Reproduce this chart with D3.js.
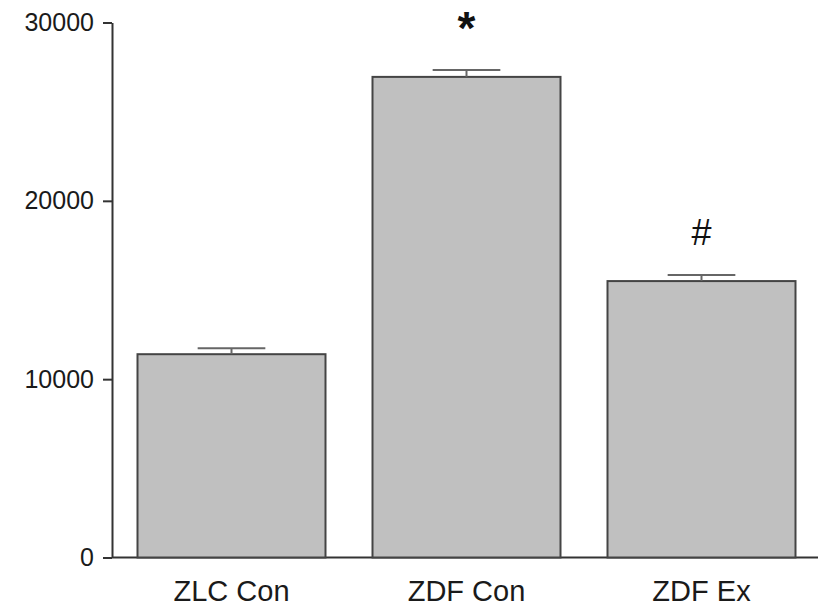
<!DOCTYPE html>
<html>
<head>
<meta charset="utf-8">
<script src="https://cdn.jsdelivr.net/npm/d3@7"></script>
<style>
  html, body { margin: 0; padding: 0; background: #fff; }
  svg { display: block; font-family: "Liberation Sans", Arial, sans-serif; }
</style>
</head>
<body>
<svg id="chart" width="818" height="609"></svg>
<script>
// Group means, upward error (SEM) and significance markers
const categories = ["ZLC Con", "ZDF Con", "ZDF Ex"];
const means = [11400, 26950, 15500];
const errors = [330, 390, 340];
const markers = ["", "*", "#"];
const yTicks = [0, 10000, 20000, 30000];

const svg = d3.select("#chart");

const x = d3.scaleBand()
  .domain(categories)
  .range([114, 819])
  .paddingInner(0.2)
  .paddingOuter(0.1);

const y = d3.scaleLinear()
  .domain([0, 30000])
  .range([557.5, 22.5]);

const axisColor = "#333";

// Y axis
const yAxis = svg.append("g")
  .attr("transform", "translate(112,0)")
  .call(d3.axisLeft(y).tickValues(yTicks).tickSize(9).tickSizeOuter(0).tickPadding(9).tickFormat(d3.format("d")));
yAxis.select(".domain").attr("stroke", axisColor).attr("stroke-width", 2);
yAxis.selectAll(".tick line").attr("stroke", axisColor).attr("stroke-width", 2);
yAxis.selectAll(".tick text")
  .attr("fill", "#1a1a1a")
  .style("font-size", "25px")
  .style("font-family", "Liberation Sans, Arial, sans-serif");

// X axis baseline
svg.append("line")
  .attr("x1", 112).attr("x2", 818)
  .attr("y1", y(0)).attr("y2", y(0))
  .attr("stroke", axisColor).attr("stroke-width", 2);

// Bars
svg.append("g").selectAll("rect")
  .data(categories)
  .join("rect")
  .attr("x", d => x(d))
  .attr("y", (d, i) => y(means[i]))
  .attr("width", x.bandwidth())
  .attr("height", (d, i) => y(0) - y(means[i]))
  .attr("fill", "#c0c0c0")
  .attr("stroke", "#444")
  .attr("stroke-width", 2);

// Error bars (upward only)
const capHalf = x.bandwidth() * 0.18;
const eb = svg.append("g").attr("stroke", "#666").attr("stroke-width", 2);
categories.forEach((c, i) => {
  const cx = x(c) + x.bandwidth() / 2;
  eb.append("line")
    .attr("x1", cx).attr("x2", cx)
    .attr("y1", y(means[i])).attr("y2", y(means[i] + errors[i]));
  eb.append("line")
    .attr("x1", cx - capHalf).attr("x2", cx + capHalf)
    .attr("y1", y(means[i] + errors[i])).attr("y2", y(means[i] + errors[i]));
});

// Significance markers
svg.append("g").selectAll("text")
  .data(categories)
  .join("text")
  .attr("x", d => x(d) + x.bandwidth() / 2)
  .attr("y", (d, i) => y(means[i] + errors[i]) - (markers[i] === "*" ? 26 : 30))
  .attr("text-anchor", "middle")
  .attr("fill", "#111")
  .style("font-weight", (d, i) => markers[i] === "*" ? "bold" : "normal")
  .style("font-size", (d, i) => markers[i] === "*" ? "46px" : "36px")
  .text((d, i) => markers[i]);

// Category labels
svg.append("g").selectAll("text")
  .data(categories)
  .join("text")
  .attr("x", d => x(d) + x.bandwidth() / 2)
  .attr("y", 601)
  .attr("text-anchor", "middle")
  .attr("fill", "#1a1a1a")
  .style("font-size", "29px")
  .text(d => d);
</script>
</body>
</html>
